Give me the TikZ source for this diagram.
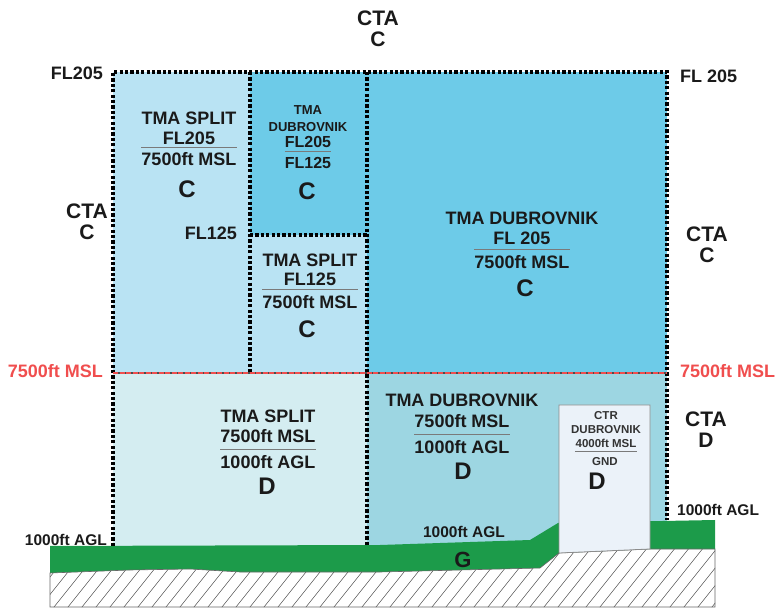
\documentclass[tikz,border=0pt]{standalone}
\usepackage{fontspec}
\setmainfont{Liberation Sans}
\definecolor{skyA}{HTML}{B9E3F3}
\definecolor{skyB}{HTML}{6DCBE8}
\definecolor{paleA}{HTML}{D4EDF1}
\definecolor{tealA}{HTML}{9DD6E2}
\definecolor{ctrfill}{HTML}{EBF2F9}
\definecolor{grass}{HTML}{1C9B4A}
\definecolor{mslred}{HTML}{F04E4E}
\definecolor{ink}{HTML}{1A1A1A}
\definecolor{rulegray}{HTML}{7A7A7A}
\begin{document}
\begin{tikzpicture}[x=1pt, y=-1pt,
  bound/.style={line width=3.3pt, dash pattern=on 3.2pt off 2.2pt},
  lbl/.style={font=\bfseries\fontsize{18}{20}\selectfont, align=center, inner sep=0pt, text=ink},
  small/.style={font=\bfseries\fontsize{15.5}{18}\selectfont, inner sep=0pt, text=ink},
  cls/.style={font=\bfseries\fontsize{24}{24}\selectfont, inner sep=0pt, text=ink},
  cta/.style={font=\bfseries\fontsize{21}{21.5}\selectfont, align=center, inner sep=0pt, text=ink},
  sepline/.style={draw=rulegray, line width=0.8pt},
  hatch/.style={draw=black!60, line width=0.6pt}
]
\useasboundingbox (0,0) rectangle (777,609);

% Airspace fills
\fill[skyA] (113,72) rectangle (250,373);
\fill[skyB] (250,72) rectangle (367,235);
\fill[skyA] (250,235) rectangle (367,373);
\fill[skyB] (367,72) rectangle (667,373);
\fill[paleA] (113,373) rectangle (367,548);
\fill[tealA] (367,373) rectangle (667,548);

% Terrain
\fill[grass] (50,546) -- (380,545) -- (530,540) -- (558,523) -- (715,520) -- (715,549) -- (650,549)
  -- (559,553) -- (540,568) -- (380,572) -- (240,572) -- (190,569) -- (130,570) -- (50,573) -- cycle;
\begin{scope}
  \clip (50,573) -- (130,570) -- (190,569) -- (240,572) -- (380,572) -- (540,568) -- (559,553)
    -- (650,549) -- (715,549) -- (715,607) -- (50,607) -- cycle;
  \foreach \x in {-20,-6,...,714} \draw[hatch] (\x,612) -- ++(56,-70);
\end{scope}
\draw[hatch] (50,573) -- (130,570) -- (190,569) -- (240,572) -- (380,572) -- (540,568) -- (559,553)
  -- (650,549) -- (715,549) -- (715,607) -- (50,607) -- cycle;

% CTR box
\draw[draw=black!45, fill=ctrfill, line width=0.8pt] (559,405) -- (650,405) -- (650,549) -- (559,553) -- cycle;

% Boundaries
\draw[bound] (113,546) -- (113,72) -- (667,72) -- (667,520);
\draw[bound] (250,72) -- (250,373);
\draw[bound] (367,72) -- (367,545);
\draw[bound] (250,235) -- (367,235);
\draw[black!70, line width=1.4pt] (113,373) -- (667,373);
\draw[mslred, line width=2.4pt, dash pattern=on 5pt off 1.5pt] (113,373) -- (667,373);

% CTA labels
\node[cta, anchor=south] (cta_top) at (378,47) {CTA\\C};
\node[cta, anchor=south] (cta_left) at (87,240) {CTA\\C};
\node[cta, anchor=south] (cta_rc) at (707,263) {CTA\\C};
\node[cta, anchor=south] (cta_rd) at (706,448) {CTA\\D};

% Level labels
\node[lbl, anchor=base east] (fl205_l) at (103,80) {FL205};
\node[lbl, anchor=base west] (fl205_r) at (680,83) {FL 205};
\node[lbl, anchor=base east] (fl125) at (237,240) {FL125};
\node[lbl, anchor=base east, text=mslred] (msl_l) at (103,378) {7500ft MSL};
\node[lbl, anchor=base west, text=mslred] (msl_r) at (680,378) {7500ft MSL};
\node[small, anchor=base east] (agl_l) at (107,545) {1000ft AGL};
\node[small, anchor=base west] (agl_r) at (677,516) {1000ft AGL};
\node[small, anchor=base] (agl_g) at (464,537) {1000ft AGL};
\node[cls, anchor=base, font=\bfseries\fontsize{22}{22}\selectfont] (cls_g) at (463,567) {G};

% TMA Split, FL205 / 7500ft MSL
\node[lbl, anchor=south] (spl_hi) at (189,145) {TMA SPLIT\\FL205};
\node[lbl, anchor=north] (spl_lo) at (189,152) {7500ft MSL};
\draw[sepline] ([yshift=5pt]spl_lo.north west) -- ([yshift=5pt]spl_lo.north east);
\node[cls, anchor=base] (spl_cls) at (187,198) {C};

% TMA Dubrovnik, FL205 / FL125
\node[lbl, anchor=south, font=\bfseries\fontsize{13}{17}\selectfont] (dbs_hi) at (308,132) {TMA\\DUBROVNIK};
\node[lbl, anchor=base, font=\bfseries\fontsize{16}{18}\selectfont] (dbs_mid) at (308,148) {FL205};
\node[lbl, anchor=north, font=\bfseries\fontsize{16}{18}\selectfont] (dbs_lo) at (308,157) {FL125};
\draw[sepline] ([yshift=6pt]dbs_lo.north west) -- ([yshift=6pt]dbs_lo.north east);
\node[cls, anchor=base] (dbs_cls) at (307,200) {C};

% TMA Split, FL125 / 7500ft MSL
\node[lbl, anchor=south, font=\bfseries\fontsize{18}{19}\selectfont] (spm_hi) at (310,286) {TMA SPLIT\\FL125};
\node[lbl, anchor=north] (spm_lo) at (310,295) {7500ft MSL};
\draw[sepline] ([yshift=6pt]spm_lo.north west) -- ([yshift=6pt]spm_lo.north east);
\node[cls, anchor=base] (spm_cls) at (307,338) {C};

% TMA Dubrovnik, FL 205 / 7500ft MSL
\node[lbl, anchor=south] (dbb_hi) at (522,245) {TMA DUBROVNIK\\FL 205};
\node[lbl, anchor=north] (dbb_lo) at (522,255) {7500ft MSL};
\draw[sepline] ([yshift=6pt]dbb_lo.north west) -- ([yshift=6pt]dbb_lo.north east);
\node[cls, anchor=base] (dbb_cls) at (525,297) {C};

% TMA Split, 7500ft MSL / 1000ft AGL
\node[lbl, anchor=south] (spd_hi) at (268,443) {TMA SPLIT\\7500ft MSL};
\node[lbl, anchor=north] (spd_lo) at (268,455) {1000ft AGL};
\draw[sepline] ([yshift=6pt]spd_lo.north west) -- ([yshift=6pt]spd_lo.north east);
\node[cls, anchor=base] (spd_cls) at (267,495) {D};

% TMA Dubrovnik, 7500ft MSL / 1000ft AGL
\node[lbl, anchor=south, font=\bfseries\fontsize{18}{21}\selectfont] (dbd_hi) at (462,428) {TMA DUBROVNIK\\7500ft MSL};
\node[lbl, anchor=north] (dbd_lo) at (462,440) {1000ft AGL};
\draw[sepline] ([yshift=6pt]dbd_lo.north west) -- ([yshift=6pt]dbd_lo.north east);
\node[cls, anchor=base] (dbd_cls) at (463,480) {D};

% CTR Dubrovnik, 4000ft MSL / GND
\node[lbl, anchor=south, font=\bfseries\fontsize{11.5}{14}\selectfont, text=black!80] (ctr_hi) at (606,448) {CTR\\DUBROVNIK\\4000ft MSL};
\node[lbl, anchor=north, font=\bfseries\fontsize{11.5}{14}\selectfont, text=black!80] (ctr_lo) at (605,457) {GND};
\draw[sepline] ([xshift=4pt,yshift=6pt]ctr_hi.south west |- ctr_lo.north) -- ([xshift=-4pt,yshift=6pt]ctr_hi.south east |- ctr_lo.north);
\node[cls, anchor=base] (ctr_cls) at (597,490) {D};

\end{tikzpicture}
\end{document}
